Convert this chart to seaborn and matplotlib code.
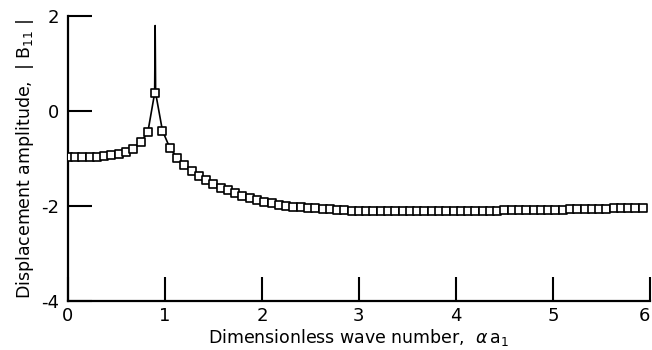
import numpy as np
import pandas as pd
import matplotlib
matplotlib.use("Agg")
import matplotlib.pyplot as plt
import seaborn as sns

# Sampled points (square markers)
wave_number = [0.000, 0.075, 0.150, 0.225, 0.300, 0.375, 0.450, 0.525, 0.600, 0.675,
               0.750, 0.825, 0.900, 0.975, 1.050, 1.125, 1.200, 1.275, 1.350, 1.425,
               1.500, 1.575, 1.650, 1.725, 1.800, 1.875, 1.950, 2.025, 2.100, 2.175,
               2.250, 2.325, 2.400, 2.475, 2.550, 2.625, 2.700, 2.775, 2.850, 2.925,
               3.000, 3.075, 3.150, 3.225, 3.300, 3.375, 3.450, 3.525, 3.600, 3.675,
               3.750, 3.825, 3.900, 3.975, 4.050, 4.125, 4.200, 4.275, 4.350, 4.425,
               4.500, 4.575, 4.650, 4.725, 4.800, 4.875, 4.950, 5.025, 5.100, 5.175,
               5.250, 5.325, 5.400, 5.475, 5.550, 5.625, 5.700, 5.775, 5.850, 5.925]
amplitude = [-0.97, -0.97, -0.97, -0.965, -0.96, -0.95, -0.93, -0.90, -0.86, -0.79,
             -0.66, -0.44, 0.38, -0.41, -0.77, -0.98, -1.14, -1.27, -1.37, -1.46,
             -1.54, -1.61, -1.67, -1.73, -1.78, -1.83, -1.87, -1.91, -1.94, -1.97,
             -1.99, -2.01, -2.03, -2.04, -2.05, -2.06, -2.07, -2.08, -2.09, -2.095,
             -2.10, -2.10, -2.10, -2.10, -2.10, -2.10, -2.10, -2.10, -2.10, -2.10,
             -2.10, -2.10, -2.10, -2.10, -2.10, -2.10, -2.10, -2.10, -2.095, -2.095,
             -2.09, -2.09, -2.09, -2.085, -2.085, -2.08, -2.08, -2.08, -2.075, -2.07,
             -2.07, -2.065, -2.06, -2.06, -2.055, -2.05, -2.05, -2.045, -2.04, -2.04]

# Continuous curve with the resonance spike
spike_x = [0.895, 0.900, 0.905]
spike_y = [0.38, 1.80, 0.38]

# Tick labels
x_ticks = [0, 1, 2, 3, 4, 5, 6]
y_ticks = [-4, -2, 0, 2]

sns.set_theme(style="ticks")
plt.rcParams['font.family'] = ['DejaVu Sans']

curve = pd.DataFrame({"x": wave_number[:12] + spike_x + wave_number[13:],
                      "y": amplitude[:12] + spike_y + amplitude[13:]})
pts = pd.DataFrame({"x": wave_number, "y": amplitude})

fig = plt.figure(figsize=(6.52, 3.5), dpi=100)
ax = fig.add_axes([0.104, 0.140, 0.893, 0.814])

sns.lineplot(data=curve, x="x", y="y", ax=ax, color="black", linewidth=1.2,
             sort=False, estimator=None)
sns.scatterplot(data=pts, x="x", y="y", ax=ax, marker="s", s=28,
                facecolor="white", edgecolor="black", linewidth=1.2, zorder=3)

ax.set_xlim(0, 6)
ax.set_ylim(-4, 2)
ax.set_xticks(x_ticks)
ax.set_yticks(y_ticks)
ax.set_xticklabels([str(t) for t in x_ticks], fontsize=13)
ax.set_yticklabels([str(t) for t in y_ticks], fontsize=13)
ax.get_xticklabels()[-1].set_horizontalalignment("right")
ax.tick_params(axis="both", direction="in", length=17, width=1.5, color="black",
               labelcolor="black", pad=4)
ax.tick_params(axis="y", pad=6)
for side in ["top", "right"]:
    ax.spines[side].set_visible(False)
for side in ["left", "bottom"]:
    ax.spines[side].set_linewidth(1.6)
    ax.spines[side].set_color("black")

ax.set_xlabel(r"Dimensionless wave number,  $\alpha\,$a$_1$", fontsize=12.5, color="black", labelpad=2)
ax.set_ylabel(r"Displacement amplitude,  | B$_{11}$ |", fontsize=12.5, color="black", labelpad=4)
ax.grid(False)

fig.savefig("out.png", dpi=100)
